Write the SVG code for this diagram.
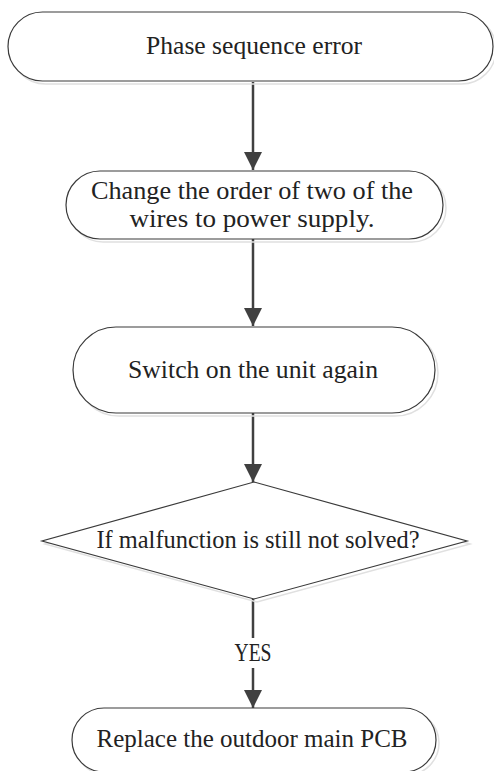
<svg xmlns="http://www.w3.org/2000/svg" width="494" height="771" viewBox="0 0 494 771">
<defs>
<style>
.shape{fill:#fff;stroke:#3a3a3a;stroke-width:1.2}
.shadow{fill:none;stroke:#e0e0e0;stroke-width:1.5}
.lbl{font-family:"Liberation Serif","Times New Roman",serif;font-size:25px;fill:#222;text-anchor:middle}
.conn{stroke:#404040;stroke-width:2.5;fill:none}
</style>
<marker id="ah" markerWidth="18" markerHeight="18" viewBox="0 0 18 18" refX="18" refY="9" orient="auto" markerUnits="userSpaceOnUse">
<path d="M0,0 L18,9 L0,18 Z" fill="#404040"/>
</marker>
</defs>
<rect width="494" height="771" fill="#fff"/>
<g id="connectors">
<line class="conn" x1="253" y1="82" x2="253" y2="170" marker-end="url(#ah)"/>
<line class="conn" x1="253" y1="239" x2="253" y2="326" marker-end="url(#ah)"/>
<line class="conn" x1="253" y1="413" x2="253" y2="482" marker-end="url(#ah)"/>
<line class="conn" x1="253" y1="599" x2="253" y2="638"/>
<line class="conn" x1="253" y1="668" x2="253" y2="708" marker-end="url(#ah)"/>
<text class="lbl" x="253" y="661" textLength="37" lengthAdjust="spacingAndGlyphs">YES</text>
</g>
<g id="n1">
<rect class="shadow" x="11" y="15" width="485" height="69" rx="34.5"/>
<rect class="shape" x="8" y="12" width="485" height="69" rx="34.5"/>
<text class="lbl" x="254" y="54" textLength="216" lengthAdjust="spacingAndGlyphs">Phase sequence error</text>
</g>
<g id="n2">
<rect class="shadow" x="69" y="174" width="377" height="68" rx="34"/>
<rect class="shape" x="66" y="171" width="377" height="68" rx="34"/>
<text class="lbl" x="252" y="199" textLength="322" lengthAdjust="spacingAndGlyphs">Change the order of two of the</text>
<text class="lbl" x="252" y="227" textLength="245" lengthAdjust="spacingAndGlyphs">wires to power supply.</text>
</g>
<g id="n3">
<rect class="shadow" x="76" y="330" width="362" height="86" rx="43"/>
<rect class="shape" x="73" y="327" width="362" height="86" rx="43"/>
<text class="lbl" x="253" y="378" textLength="250" lengthAdjust="spacingAndGlyphs">Switch on the unit again</text>
</g>
<g id="n4">
<polygon class="shadow" points="257,485 470,544 257,602 45,544"/>
<polygon class="shape" points="254,482 467,541 254,599 42,541"/>
<text class="lbl" x="258" y="548" textLength="323" lengthAdjust="spacingAndGlyphs">If malfunction is still not solved?</text>
</g>
<g id="n5">
<rect class="shadow" x="75" y="711" width="364" height="64" rx="32"/>
<rect class="shape" x="72" y="708" width="364" height="64" rx="32"/>
<text class="lbl" x="252" y="747" textLength="311" lengthAdjust="spacingAndGlyphs">Replace the outdoor main PCB</text>
</g>
</svg>
